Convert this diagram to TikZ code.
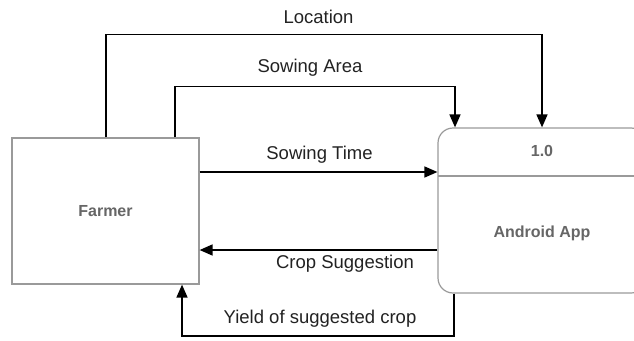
\documentclass[tikz,border=0pt]{standalone}
\usepackage{fontspec}
\setmainfont{Liberation Sans}
\usetikzlibrary{arrows.meta}
\definecolor{boxline}{HTML}{9A9A9A}
\definecolor{boxtext}{HTML}{666666}
\definecolor{labeltext}{HTML}{222222}
\begin{document}
\begin{tikzpicture}[x=1pt,y=-1pt,
  entity/.style={draw=boxline,line width=1.2pt,fill=white,minimum width=187pt,minimum height=146pt,inner sep=0pt,
    font=\fontsize{16}{19}\selectfont\bfseries,text=boxtext},
  process/.style={draw=boxline,line width=1.2pt,fill=white,rounded corners=15pt,minimum width=208pt,minimum height=165pt,inner sep=0pt},
  ptext/.style={font=\fontsize{16}{19}\selectfont\bfseries,text=boxtext},
  flow/.style={line width=1.6pt,-{Triangle[length=13pt,width=11pt]}},
  lbl/.style={font=\fontsize{18.5}{22}\selectfont,text=labeltext,inner sep=0pt}]
\useasboundingbox (0,0) rectangle (634,340);
\node[entity] (farmer) at (105.5,211) {Farmer};
\node[process] (app) at (542,210.5) {};
\coordinate (divl) at (438,176);
\coordinate (divr) at (646,176);
\draw[boxline,line width=1.2pt] (divl) -- (divr);
\node[ptext] (num) at (542,151) {1.0};
\node[ptext] (appname) at (542,233) {Android App};
% Location
\coordinate (loc1) at (106,34.5);
\coordinate (loc2) at (542,34.5);
\draw[flow] (farmer.north -| loc1) -- (loc1) -- (loc2) -- (app.north -| loc2);
\node[lbl] (loclbl) at (318.5,17) {Location};
% Sowing Area
\coordinate (sa1) at (175,86.5);
\coordinate (sa2) at (455,86.5);
\draw[flow] (farmer.north -| sa1) -- (sa1) -- (sa2) -- (app.north -| sa2);
\node[lbl] (salbl) at (310,68) {Sowing Area};
% Sowing Time
\coordinate (st) at (300,172);
\draw[flow] (farmer.east |- st) -- (app.west |- st);
\node[lbl] (stlbl) at (319.5,155) {Sowing Time};
% Crop Suggestion
\coordinate (cs) at (300,250);
\draw[flow] (app.west |- cs) -- (farmer.east |- cs);
\node[lbl] (cslbl) at (345,264) {Crop Suggestion};
% Yield
\coordinate (y1) at (454,336);
\coordinate (y2) at (182,336);
\draw[flow] (app.south -| y1) -- (y1) -- (y2) -- (farmer.south -| y2);
\node[lbl] (ylbl) at (320,319) {Yield of suggested crop};
\end{tikzpicture}
\end{document}
